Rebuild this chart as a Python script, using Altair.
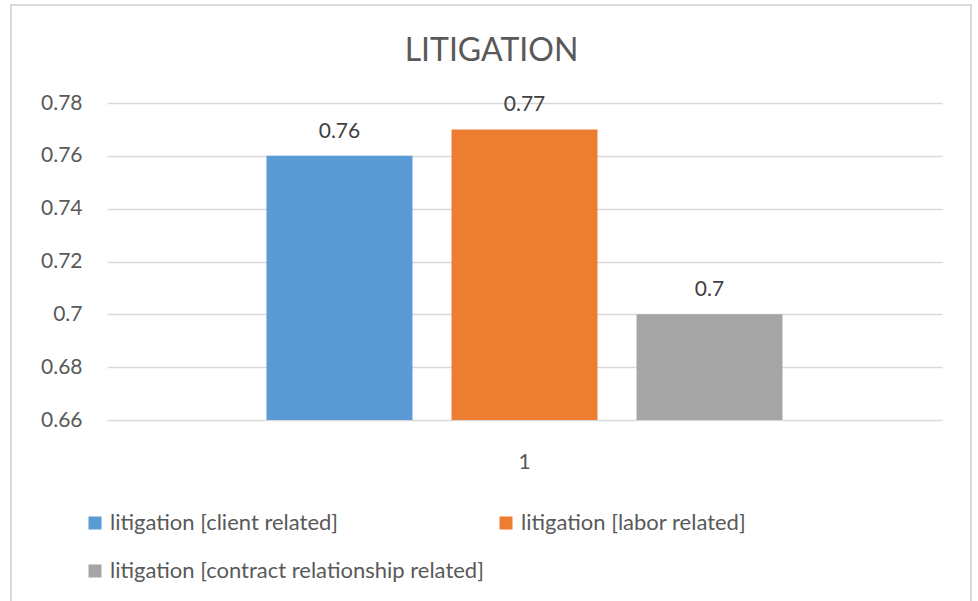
import altair as alt
import pandas as pd

categories = ["1", "1", "1"]
series = [
    "litigation [client related]",
    "litigation [labor related]",
    "litigation [contract relationship related]",
]
values = [0.76, 0.77, 0.70]
colors = ["#5B9BD5", "#ED7D31", "#A5A5A5"]
y_ticks = [0.66, 0.68, 0.70, 0.72, 0.74, 0.76, 0.78]

df = pd.DataFrame({"cat": categories, "series": series, "value": values})

FONT = "Lato"

x_enc = alt.X("cat:N", title=None,
              scale=alt.Scale(paddingInner=0, paddingOuter=0),
              axis=alt.Axis(labelAngle=0, ticks=False, domain=False, grid=False,
                            labelPadding=31, labelFontSize=21,
                            labelColor="#595959", labelFont=FONT))
xoff = alt.XOffset("series:N", sort=series,
                   scale=alt.Scale(paddingInner=0.211, paddingOuter=0.862))

y_scale = alt.Scale(domain=[0.66, 0.78], zero=False, nice=False)

border = alt.Chart(alt.Data(values=[{}])).mark_rect(
    fill="transparent", stroke="#D9D9D9", strokeWidth=2, clip=False
).encode(
    x=alt.value(-96), x2=alt.value(864), y=alt.value(-98), y2=alt.value(520)
)

bars = alt.Chart(df).mark_bar().encode(
    x=x_enc,
    xOffset=xoff,
    y=alt.Y("value:Q", scale=y_scale, title=None,
            axis=alt.Axis(values=y_ticks, format="~g", ticks=False, domain=False,
                          labelPadding=25, labelFontSize=21, labelColor="#595959",
                          labelFont=FONT, gridColor="#D9D9D9", gridWidth=1.5)),
    y2=alt.datum(0.66),
    color=alt.Color("series:N", sort=series,
                    scale=alt.Scale(domain=series, range=colors),
                    legend=alt.Legend(title=None, orient="none", legendX=-23, legendY=409,
                                      values=series, direction="horizontal",
                                      columns=2, symbolType="square", symbolSize=169,
                                      symbolStrokeWidth=0, labelFontSize=22,
                                      labelColor="#595959", labelFont=FONT,
                                      labelLimit=600, rowPadding=26, columnPadding=11,
                                      labelOffset=4, gridAlign="all")),
)

labels = alt.Chart(df).mark_text(
    dy=-24, fontSize=21, color="#404040", font=FONT
).encode(
    x=x_enc,
    xOffset=xoff,
    y=alt.Y("value:Q", scale=y_scale),
    text=alt.Text("value:Q", format="~g"),
)

chart = alt.layer(border, bars, labels).properties(
    width=835, height=317,
    autosize=alt.AutoSizeParams(type="none"),
    padding={"left": 107, "top": 103, "right": 36, "bottom": 181},
    view=alt.ViewBackground(stroke="transparent", strokeWidth=0),
    title=alt.TitleParams("LITIGATION", fontSize=32, font=FONT, fontWeight="normal",
                          color="#595959", anchor="middle", dx=-33, offset=0, dy=64),
).configure_view(stroke="transparent", strokeWidth=0).configure(background="white")

chart.save("out.html", embed_options={"renderer": "svg", "actions": False})
